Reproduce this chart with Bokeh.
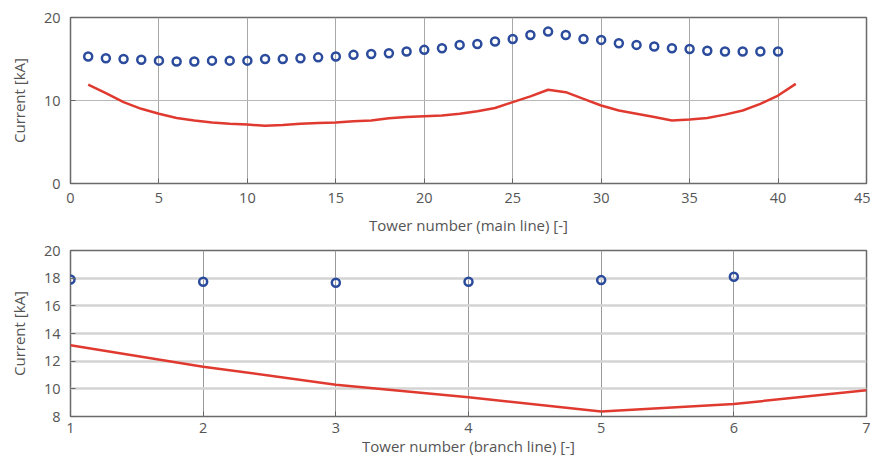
from bokeh.plotting import figure
from bokeh.layouts import column
from bokeh.models import FixedTicker, Range1d
from bokeh.embed import file_html
from bokeh.resources import INLINE

# ---- data: main line ----
main_towers = list(range(1, 41))
main_measured = [15.3, 15.1, 15.0, 14.9, 14.8, 14.7, 14.7, 14.8, 14.8, 14.8,
                 15.0, 15.0, 15.1, 15.2, 15.3, 15.5, 15.6, 15.7, 15.9, 16.1,
                 16.3, 16.7, 16.8, 17.1, 17.4, 17.9, 18.3, 17.9, 17.4, 17.3,
                 16.9, 16.7, 16.5, 16.3, 16.2, 16.0, 15.9, 15.9, 15.9, 15.9]
main_line_x = list(range(1, 42))
main_line_y = [11.9, 10.9, 9.8, 9.0, 8.4, 7.9, 7.6, 7.35, 7.2, 7.1,
               6.95, 7.05, 7.2, 7.3, 7.35, 7.5, 7.6, 7.85, 8.0, 8.1,
               8.2, 8.4, 8.7, 9.1, 9.8, 10.5, 11.3, 11.0, 10.2, 9.4,
               8.8, 8.4, 8.0, 7.6, 7.7, 7.9, 8.3, 8.8, 9.6, 10.6, 12.0]
main_xticks = [0, 5, 10, 15, 20, 25, 30, 35, 40, 45]
main_yticks = [0, 10, 20]

# ---- data: branch line ----
branch_towers = [1, 2, 3, 4, 5, 6]
branch_measured = [17.9, 17.74, 17.67, 17.74, 17.86, 18.1]
branch_line_x = [1, 2, 3, 4, 5, 6, 7]
branch_line_y = [13.15, 11.6, 10.3, 9.4, 8.36, 8.9, 9.9]
branch_xticks = [1, 2, 3, 4, 5, 6, 7]
branch_yticks = [8, 10, 12, 14, 16, 18, 20]

FONT = "Open Sans"
TXT = "#555555"
BLUE = "#2b4b9c"
RED = "#e03a30"
TICK = "#666666"


def style(p, xticks, yticks, xlabel, xtick_standoff, xlabel_standoff):
    p.xaxis.ticker = FixedTicker(ticks=xticks)
    p.yaxis.ticker = FixedTicker(ticks=yticks)
    p.xaxis.axis_label = xlabel
    p.yaxis.axis_label = "Current [kA]"
    for ax in (p.xaxis[0], p.yaxis[0]):
        ax.axis_line_color = None
        ax.major_tick_in = 5
        ax.major_tick_out = 0
        ax.major_tick_line_color = TICK
        ax.minor_tick_line_color = None
        ax.major_label_text_font = FONT
        ax.major_label_text_font_size = "14.5px"
        ax.major_label_text_color = TXT
        ax.axis_label_text_font = FONT
        ax.axis_label_text_font_size = "15px"
        ax.axis_label_text_font_style = "normal"
        ax.axis_label_text_color = TXT
    p.xaxis.major_label_standoff = xtick_standoff
    p.xaxis.axis_label_standoff = xlabel_standoff
    p.yaxis.major_label_standoff = 10
    p.yaxis.axis_label_standoff = 12
    p.outline_line_color = "#6a6a6a"
    p.outline_line_width = 1.5
    p.background_fill_color = "white"
    p.border_fill_color = "white"


# ---- top figure ----
p1 = figure(width=870, height=237, output_backend="svg", toolbar_location=None,
            x_range=Range1d(0, 45), y_range=Range1d(0, 20),
            min_border_left=70, min_border_right=4, min_border_top=17,
            min_border_bottom=54)
style(p1, main_xticks, main_yticks, "Tower number (main line) [-]", 9, 9)
p1.xgrid.grid_line_color = "#a8a8a8"
p1.ygrid.grid_line_color = "#b8b8b8"
p1.line(main_line_x, main_line_y, line_color=RED, line_width=2.5)
p1.scatter(main_towers, main_measured, marker="circle", size=8,
           fill_color=None, line_color=BLUE, line_width=2.5)

# ---- bottom figure ----
p2 = figure(width=870, height=221, output_backend="svg", toolbar_location=None,
            x_range=Range1d(1, 7), y_range=Range1d(8, 20),
            min_border_left=70, min_border_right=4, min_border_top=13,
            min_border_bottom=41)
style(p2, branch_xticks, branch_yticks, "Tower number (branch line) [-]", 6, 0)
p2.xgrid.grid_line_color = "#9a9a9a"
p2.ygrid.grid_line_color = "#d4d4d4"
p2.ygrid.grid_line_width = 2.5
p2.line(branch_line_x, branch_line_y, line_color=RED, line_width=2.5)
p2.scatter(branch_towers, branch_measured, marker="circle", size=8,
           fill_color=None, line_color=BLUE, line_width=2.5)

layout = column(p1, p2, spacing=0)
open("out.html", "w").write(file_html(layout, INLINE))
